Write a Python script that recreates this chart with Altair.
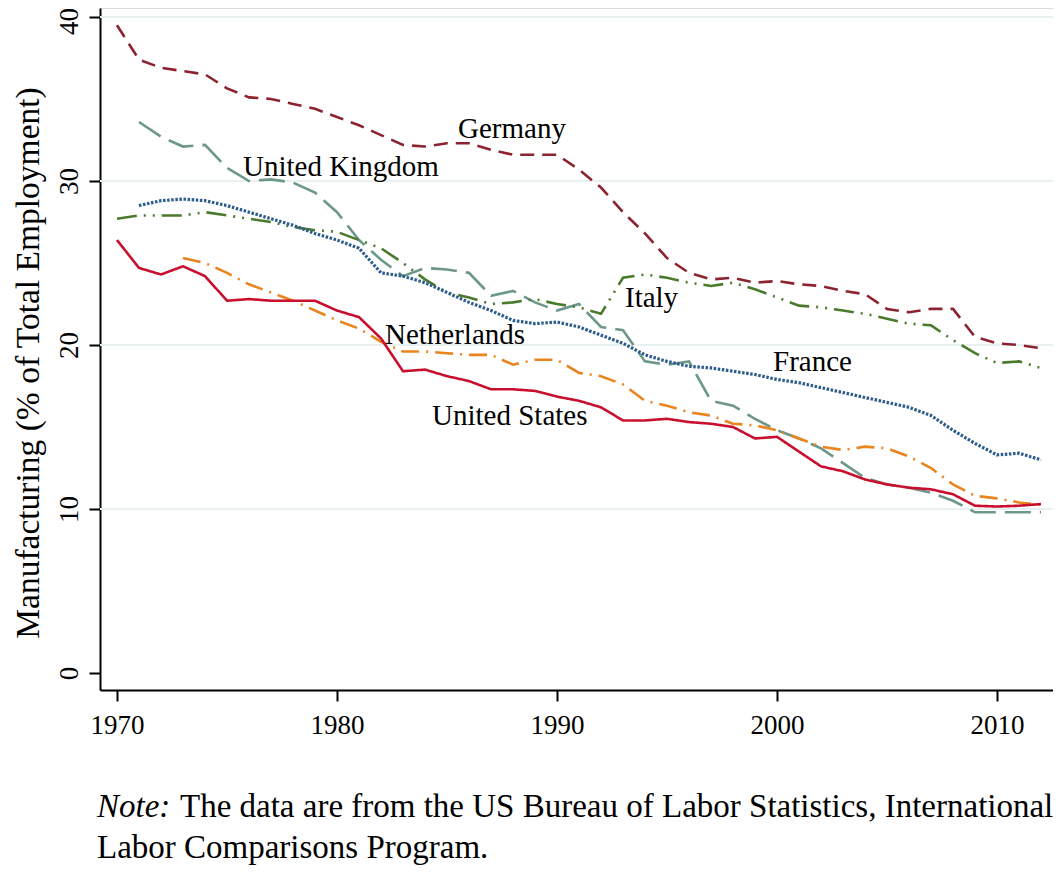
import altair as alt
import pandas as pd

years = list(range(1970, 2013))

germany = [39.5, 37.4, 36.9, 36.7, 36.5, 35.65, 35.1, 35.0, 34.7, 34.4,
           33.9, 33.4, 32.8, 32.2, 32.1, 32.3, 32.3, 31.9, 31.6, 31.6,
           31.6, 30.7, 29.6, 28.1, 26.8, 25.3, 24.4, 24.0, 24.1, 23.8,
           23.9, 23.7, 23.6, 23.3, 23.1, 22.2, 22.0, 22.2, 22.2, 20.5,
           20.1, 20.0, 19.8]
uk = [None, 33.6, 32.7, 32.1, 32.2, 30.8, 30.0, 30.1, 29.9, 29.3,
      28.1, 26.4, 25.2, 24.2, 24.7, 24.6, 24.4, 23.0, 23.3, 22.6,
      22.1, 22.5, 21.1, 20.9, 19.0, 18.8, 19.0, 16.6, 16.3, 15.5,
      14.8, 14.3, 13.7, 12.8, 11.9, 11.5, 11.3, 11.0, 10.5, 9.8,
      9.8, 9.8, 9.8]
italy = [27.7, 27.9, 27.9, 27.9, 28.1, 27.9, 27.7, 27.5, 27.2, 27.0,
         26.9, 26.4, 25.9, 25.0, 24.0, 23.2, 22.9, 22.5, 22.6, 22.8,
         22.5, 22.3, 21.9, 24.1, 24.3, 24.1, 23.8, 23.6, 23.8, 23.4,
         22.9, 22.4, 22.3, 22.1, 21.9, 21.6, 21.3, 21.2, 20.3, 19.5,
         18.9, 19.0, 18.6]
france = [None, 28.5, 28.8, 28.9, 28.8, 28.5, 28.1, 27.7, 27.3, 26.8,
          26.4, 25.9, 24.4, 24.2, 23.8, 23.2, 22.6, 22.1, 21.5, 21.3,
          21.4, 21.1, 20.6, 20.1, 19.4, 19.0, 18.7, 18.6, 18.4, 18.2,
          17.9, 17.7, 17.4, 17.1, 16.8, 16.5, 16.2, 15.7, 14.8, 14.0,
          13.3, 13.4, 13.0]
netherlands = [None, None, None, 25.3, 25.0, 24.4, 23.7, 23.2, 22.7, 22.1,
               21.5, 21.0, 20.2, 19.6, 19.6, 19.5, 19.4, 19.4, 18.8, 19.1,
               19.1, 18.3, 18.1, 17.6, 16.6, 16.3, 15.9, 15.7, 15.2, 15.1,
               14.8, 14.3, 13.8, 13.6, 13.8, 13.7, 13.2, 12.5, 11.5, 10.8,
               10.65, 10.4, 10.25]
united_states = [26.4, 24.7, 24.3, 24.8, 24.2, 22.7, 22.8, 22.7, 22.7, 22.7,
                 22.1, 21.7, 20.4, 18.4, 18.5, 18.1, 17.8, 17.3, 17.3, 17.2,
                 16.85, 16.6, 16.2, 15.4, 15.4, 15.5, 15.3, 15.2, 15.0, 14.3,
                 14.4, 13.5, 12.6, 12.3, 11.8, 11.5, 11.3, 11.2, 10.9, 10.2,
                 10.15, 10.2, 10.3]

countries = ["Germany", "United Kingdom", "Italy", "France", "Netherlands", "United States"]
series = [germany, uk, italy, france, netherlands, united_states]
colors = ["#8c2331", "#6d978a", "#4a7a2b", "#2c5c8c", "#ea841e", "#c8102e"]
dashes = [[14, 8], [26, 9], [20, 7, 2, 7, 2, 7], [2.5, 1.6], [18, 7, 2, 7], [1, 0]]
widths = [2.6, 2.6, 2.6, 3.2, 2.6, 2.6]

label_text = ["Germany", "United Kingdom", "Italy", "Netherlands", "France", "United States"]
label_year = [1985.5, 1975.73, 1993.09, 1982.18, 1999.82, 1984.32]
label_value = [33.2, 30.85, 22.85, 20.6, 18.95, 15.65]

grid_values = [10, 20, 30, 40]
y_ticks = [0, 10, 20, 30, 40]
x_ticks = [1970, 1980, 1990, 2000, 2010]

note_label = "Note:"
note_line1 = "The data are from the US Bureau of Labor Statistics, International"
note_line2 = "Labor Comparisons Program."

FONT = "Liberation Serif"
W, H = 953, 682
xdom = [1970 - 17 / 22, 1970 - 17 / 22 + W / 22]
ydom = [-(H - 665) / 16.4, 40 + 9 / 16.4]

xs = alt.Scale(domain=xdom, nice=False, zero=False)
ys = alt.Scale(domain=ydom, nice=False, zero=False)

x_axis = alt.Axis(values=x_ticks, format="d", grid=False, title=None,
                  domainColor="black", domainWidth=2, tickColor="black", tickWidth=2,
                  tickSize=11, labelFont=FONT, labelFontSize=27, labelColor="black",
                  labelBaseline="alphabetic", labelPadding=32, labelFlush=False)
y_axis = alt.Axis(values=y_ticks, grid=False, title="Manufacturing (% of Total Employment)",
                  domainColor="black", domainWidth=2, tickColor="black", tickWidth=2,
                  tickSize=11, labelFont=FONT, labelFontSize=27, labelColor="black",
                  labelAngle=270, labelAlign="center", labelBaseline="alphabetic",
                  labelPadding=12, labelFlush=False,
                  labelOffset={"condition": {"test": "datum.value == 40", "value": 4}, "value": 0},
                  titleFont=FONT, titleFontSize=33.5, titleFontWeight="normal",
                  titleColor="black", titleAngle=270, titleAlign="center",
                  titleBaseline="alphabetic", titleX=-62, titleY=354.5)

grid = alt.Chart(pd.DataFrame({"v": grid_values})).mark_rule(
    color="#e8f0f2", strokeWidth=2).encode(
    y=alt.Y("v:Q", scale=ys, axis=y_axis))

layers = [grid]
for name, vals, col, dash, sw in zip(countries, series, colors, dashes, widths):
    df = pd.DataFrame({"year": years, "value": vals}).dropna()
    layers.append(
        alt.Chart(df).mark_line(color=col, strokeDash=dash, strokeWidth=sw).encode(
            x=alt.X("year:Q", scale=xs, axis=x_axis),
            y=alt.Y("value:Q", scale=ys, axis=y_axis),
        )
    )

labels_df = pd.DataFrame({"t": label_text, "x": label_year, "y": label_value})
labels = alt.Chart(labels_df).mark_text(
    font=FONT, fontSize=29, align="left", baseline="middle", color="black").encode(
    x=alt.X("x:Q", scale=xs), y=alt.Y("y:Q", scale=ys), text="t:N")
layers.append(labels)

NOTE_FS = 33
note_a = alt.Chart(pd.DataFrame({"t": [note_label]})).mark_text(
    font=FONT, fontSize=NOTE_FS, fontStyle="italic", align="left", baseline="middle",
    color="black").encode(x=alt.value(-3), y=alt.value(799), text="t:N")
note_b = alt.Chart(pd.DataFrame({"t": [note_line1]})).mark_text(
    font=FONT, fontSize=NOTE_FS, align="left", baseline="middle", color="black").encode(
    x=alt.value(80), y=alt.value(799), text="t:N")
note_c = alt.Chart(pd.DataFrame({"t": [note_line2]})).mark_text(
    font=FONT, fontSize=NOTE_FS, align="left", baseline="middle", color="black").encode(
    x=alt.value(-3), y=alt.value(840), text="t:N")
layers += [note_a, note_b, note_c]

chart = alt.layer(*layers).properties(
    width=W, height=H,
    autosize=alt.AutoSizeParams(type="none"),
    padding={"left": 92, "top": 0, "right": 0, "bottom": 176},
).configure_view(stroke=None).configure(background="white")

chart.save("out.html", embed_options={"renderer": "svg", "actions": False})
